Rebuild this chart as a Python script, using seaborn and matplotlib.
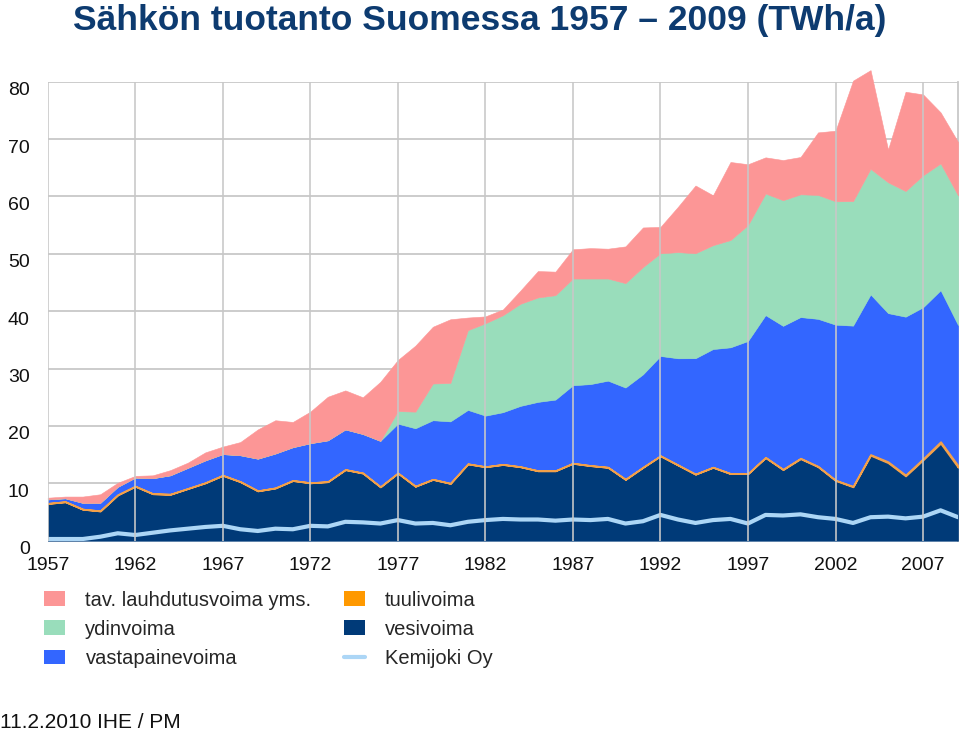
import matplotlib
matplotlib.use("Agg")
import matplotlib.pyplot as plt
import matplotlib.transforms as mtransforms
from matplotlib.patches import Patch
from matplotlib.lines import Line2D
import seaborn as sns

years = list(range(1957, 2010))

vesivoima = [6.5, 6.8, 5.5, 5.2, 8.0, 9.5, 8.2, 8.1, 9.1, 10.1,
             11.4, 10.3, 8.7, 9.2, 10.5, 10.1, 10.3, 12.4, 11.8, 9.4,
             11.8, 9.5, 10.7, 10.0, 13.4, 12.9, 13.3, 12.9, 12.2, 12.2,
             13.5, 13.1, 12.8, 10.7, 12.8, 14.8, 13.2, 11.6, 12.8, 11.7,
             11.7, 14.5, 12.4, 14.3, 12.9, 10.5, 9.4, 14.9, 13.6, 11.3,
             14.1, 17.0, 12.8]
tuulivoima = [0.0] * 35 + [0.0, 0.0, 0.01, 0.01, 0.01, 0.02, 0.02, 0.05, 0.08,
                           0.07, 0.06, 0.09, 0.12, 0.17, 0.15, 0.19, 0.26, 0.28]
vastapainevoima = [0.7, 0.6, 1.1, 1.4, 1.4, 1.5, 2.7, 3.3, 3.6, 3.9,
                   3.7, 4.6, 5.6, 6.0, 5.8, 6.9, 7.2, 7.0, 6.8, 8.0,
                   8.6, 10.1, 10.3, 10.8, 9.4, 8.9, 9.1, 10.6, 12.0, 12.4,
                   13.6, 14.2, 15.1, 16.0, 16.2, 17.4, 18.6, 20.2, 20.6, 22.0,
                   23.1, 24.8, 25.0, 24.6, 25.7, 27.1, 28.0, 27.9, 25.9, 27.6,
                   26.4, 26.4, 24.5]
ydinvoima = [0.0] * 20 + [2.2, 2.9, 6.4, 6.7, 13.9, 16.1, 16.9, 17.8, 18.2, 18.2,
                          18.6, 18.4, 17.8, 18.2, 18.7, 17.9, 18.5, 18.3, 18.1, 18.7,
                          20.2, 21.2, 21.9, 21.4, 21.6, 21.5, 21.7, 21.9, 22.8, 21.9,
                          23.0, 22.1, 22.6]
lauhdutus = [0.3, 0.3, 1.1, 1.5, 0.7, 0.3, 0.5, 0.9, 0.9, 1.4,
             1.3, 2.3, 5.1, 5.8, 4.4, 5.5, 7.6, 6.8, 6.4, 10.3,
             8.9, 11.5, 9.9, 11.1, 2.2, 1.2, 1.0, 2.3, 4.6, 4.1,
             5.1, 5.3, 5.2, 6.4, 6.9, 4.6, 7.9, 11.8, 8.7, 13.6,
             10.6, 6.3, 7.0, 6.5, 10.9, 12.3, 21.0, 17.2, 5.7, 17.3,
             14.1, 8.9, 9.3]
kemijoki = [0.3, 0.3, 0.3, 0.7, 1.3, 1.0, 1.4, 1.8, 2.1, 2.4,
            2.6, 2.0, 1.7, 2.1, 2.0, 2.6, 2.5, 3.3, 3.2, 3.0,
            3.6, 3.0, 3.1, 2.7, 3.3, 3.6, 3.8, 3.7, 3.7, 3.5,
            3.7, 3.6, 3.8, 3.0, 3.4, 4.5, 3.7, 3.1, 3.6, 3.8,
            3.0, 4.5, 4.4, 4.6, 4.1, 3.8, 3.1, 4.1, 4.2, 3.9,
            4.2, 5.3, 4.1]

labels = ["vesivoima", "tuulivoima", "vastapainevoima", "ydinvoima",
          "tav. lauhdutusvoima yms."]
colors = ["#003a78", "#ff9900", "#3366ff", "#99ddbb", "#fc9696"]
kemi_color = "#acd6f6"
grid_color = "#c8c8c8"
title_color = "#0d3b70"
xticks = list(range(1957, 2008, 5))
yticks = list(range(0, 81, 10))

sns.set_theme(style="white")
plt.rcParams["font.family"] = ["Liberation Sans", "DejaVu Sans"]

fig = plt.figure(figsize=(9.6, 7.33), dpi=100)
ax = fig.add_axes([0.0497, 0.2623, 0.9483, 0.6262])

polys = ax.stackplot(years, vesivoima, tuulivoima, vastapainevoima, ydinvoima,
                     lauhdutus, colors=colors, zorder=1)
for p, c in zip(polys, colors):
    p.set_edgecolor(c)
    p.set_linewidth(0.4)
polys[1].set_edgecolor("#f2a04a")
polys[1].set_linewidth(1.3)
polys[1].set_zorder(1.5)
polys[4].set_clip_on(False)

sns.lineplot(x=years, y=kemijoki, color=kemi_color, linewidth=3.0, ax=ax, zorder=2.5)

for x in xticks:
    ax.axvline(x, color=grid_color, linewidth=1.3, zorder=3, alpha=0.9)

ax.set_xlim(1957, 2009)
ax.set_ylim(0, 80)
ax.set_xticks(xticks)
ax.set_yticks(yticks)
ax.yaxis.grid(True, color=grid_color, linewidth=1.3)
ax.xaxis.grid(False)
ax.set_axisbelow(True)
for s in ["top", "bottom", "left"]:
    ax.spines[s].set_visible(False)
ax.spines["right"].set_color(grid_color)
ax.spines["right"].set_linewidth(1.3)
ax.spines["right"].set_zorder(0.5)

ax.tick_params(axis="x", length=0, pad=11.5, labelsize=14, labelcolor="#111111")
ax.tick_params(axis="y", length=0, pad=13, labelsize=14, labelcolor="#111111")
offset = mtransforms.ScaledTranslation(0, -5 / 72, fig.dpi_scale_trans)
for lab in ax.get_yticklabels():
    lab.set_transform(lab.get_transform() + offset)

fig.text(0.5, 0.972, "Sähkön tuotanto Suomessa 1957 – 2009 (TWh/a)",
         ha="center", va="center", fontsize=25.5, fontweight="bold", color=title_color)

handles = [Patch(facecolor=colors[4], edgecolor="none"),
           Patch(facecolor=colors[3], edgecolor="none"),
           Patch(facecolor=colors[2], edgecolor="none"),
           Patch(facecolor=colors[1], edgecolor="none"),
           Patch(facecolor=colors[0], edgecolor="none"),
           Line2D([], [], color=kemi_color, linewidth=3)]
leg_labels = [labels[4], labels[3], labels[2], labels[1], labels[0], "Kemijoki Oy"]
fig.legend(handles, leg_labels, ncol=2, loc="upper left",
           bbox_to_anchor=(0.046, 0.194), frameon=False, fontsize=14.5,
           handlelength=1.05, handleheight=0.75, handletextpad=1.0,
           columnspacing=1.6, labelspacing=0.5, borderpad=0, borderaxespad=0)

fig.text(0.0, 0.014, "11.2.2010 IHE / PM", ha="left", va="center",
         fontsize=15, color="#111111")

fig.savefig("out.png", dpi=100)
